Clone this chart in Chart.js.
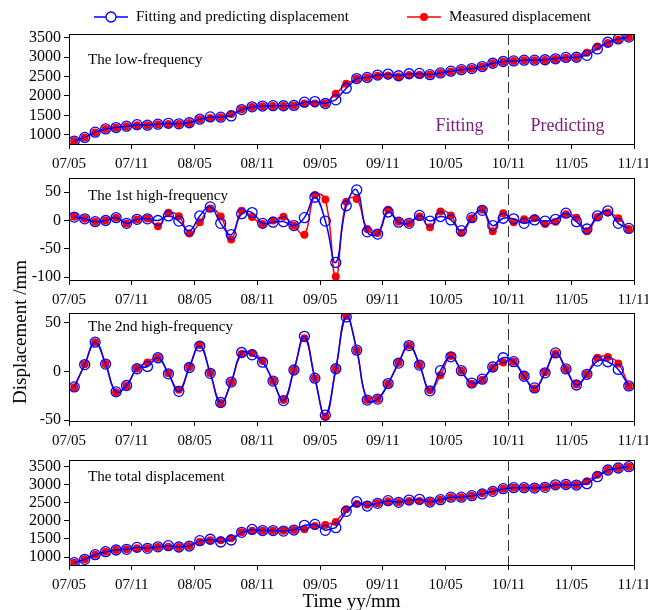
<!DOCTYPE html>
<html>
<head>
<meta charset="utf-8">
<script src="https://cdn.jsdelivr.net/npm/chart.js@4.4.0/dist/chart.umd.min.js"></script>
<style>
  body { margin: 0; background: #fff; width: 648px; height: 610px; position: relative; overflow: hidden; font-family: "Liberation Serif", serif; }
  canvas { position: absolute; left: 0; }
  #ylab { position: absolute; left: 20px; top: 332px; transform: translate(-50%, -50%) rotate(-90deg); font-size: 19px; white-space: nowrap; color: #000; }
</style>
</head>
<body>
<canvas id="c1"></canvas>
<canvas id="c2"></canvas>
<canvas id="c3"></canvas>
<canvas id="c4"></canvas>
<div id="ylab">Displacement /mm</div>
<script>
// monthly values, 2007/05 .. 2011/10 (plotted mid-month)
const monthTicks = ['07/05', '07/11', '08/05', '08/11', '09/05', '09/11', '10/05', '10/11', '11/05', '11/11'];
const splitMonth = 42; // 10/11: fitting before, predicting after

const lowMeasured = [835, 930, 1060, 1147, 1182, 1216, 1242, 1242, 1268, 1277, 1277, 1303, 1398, 1432, 1450, 1536, 1650, 1718, 1735, 1744,
  1744, 1753, 1804, 1804, 1804, 2055, 2315, 2445, 2479, 2522, 2531, 2505, 2540, 2548, 2548, 2592, 2635, 2678, 2704, 2756,
  2842, 2886, 2903, 2920, 2920, 2929, 2955, 2990, 2998, 3119, 3275, 3370, 3457, 3517];
const lowFitted = [835, 930, 1065, 1150, 1185, 1220, 1260, 1245, 1272, 1295, 1280, 1308, 1400, 1460, 1452, 1485, 1648, 1720, 1740, 1750,
  1748, 1755, 1840, 1856, 1805, 1900, 2200, 2450, 2480, 2540, 2565, 2522, 2574, 2583, 2550, 2595, 2640, 2680, 2708, 2760,
  2845, 2890, 2905, 2925, 2925, 2935, 2960, 2995, 3000, 3050, 3214, 3387, 3474, 3520];

const high1Measured = [6.5, 3, -2.4, 0, 4.7, -5.3, 1.8, 3.5, -10, 13.5, 7.6, -23, -3, 21, 7, -33.5, 17, 6, -6, 0,
  6.5, -9.4, -25, 45, 37, -99, 33, 38, -15, -22, 19, -2, -5, 7, -12, 16, 9, -22, 4, 19,
  -19, 13, -3, 2, 4, -6, -2, 11, 5, -19, 6, 14, 4, -15];
const high1Fitted = [6, 3, -2, 0, 5, -5, 2, 3, 0, 8, -1, -18, 8, 24, -5, -25, 12, 14, -5, -3,
  -2, -9, 5, 41, -1, -74, 26, 54, -20, -24, 15, -3, -5, 9, -1, 7, 1, -18, 5, 18,
  -9, 4, 3, -5, 1, -1, 2, 13, -2, -15, 8, 17, -5, -14];

const high2Measured = [-16.4, 7.2, 30, 7.5, -21.5, -14.7, 3, 9.2, 14, -2, -18.8, 4.4, 27, -1.7, -32.4, -11.3, 18, 19, 10.6, -10,
  -29.3, 1.4, 34, -7, -46.4, 2.7, 57, 21.8, -29.3, -28.3, -12.6, 8.9, 26.6, 6.5, -19.4, -4.1, 15.7, 0.7, -12.6, -8.5,
  4.1, 9.2, 9.9, -4.8, -17.7, -1, 18.4, 2.4, -13.6, -3, 14, 14.7, 8.2, -15];
const high2Fitted = [-16, 7, 30, 7.5, -21, -14.5, 2.7, 5, 14, -2.5, -20.5, 4, 26, -2, -32, -11, 19.4, 17, 9.5, -10,
  -30, 1.4, 36, -7, -45, 2.7, 56, 21.8, -29.5, -28.5, -12.5, 8.5, 26.5, 6.5, -20, 0.7, 15, 0.7, -12, -8,
  4.5, 14, 10, -5, -17, -1.5, 19, 2.5, -14, -3, 10.6, 9.9, 2, -15];

const totalMeasured = [844, 936, 1064, 1147, 1193, 1211, 1239, 1239, 1276, 1285, 1276, 1303, 1423, 1460, 1460, 1515, 1680, 1726, 1726, 1726,
  1726, 1744, 1763, 1855, 1882, 1965, 2314, 2461, 2443, 2480, 2535, 2507, 2544, 2544, 2516, 2581, 2645, 2645, 2691, 2755,
  2810, 2884, 2911, 2911, 2902, 2921, 2976, 2994, 2985, 3086, 3270, 3399, 3454, 3490];
const totalFitted = [844, 936, 1064, 1147, 1193, 1211, 1266, 1239, 1280, 1312, 1276, 1303, 1450, 1490, 1414, 1469, 1680, 1760, 1730, 1730,
  1715, 1744, 1873, 1900, 1735, 1809, 2259, 2525, 2406, 2480, 2553, 2507, 2571, 2590, 2516, 2581, 2650, 2650, 2691, 2740,
  2810, 2884, 2911, 2911, 2902, 2921, 2990, 3000, 2985, 3022, 3215, 3399, 3454, 3490];

const bigTicks = [1000, 1500, 2000, 2500, 3000, 3500];
const high1Ticks = [-100, -50, 0, 50];
const high2Ticks = [-50, 0, 50];

const FONT = 'Liberation Serif';
const BLUE = '#0000ff';
const RED = '#ff0000';

const pts = arr => arr.map((v, i) => ({x: i + 0.5, y: v}));

const framePlugin = {
  id: 'frame',
  beforeDatasetsDraw(chart) {
    const {ctx, chartArea: a, scales} = chart;
    const x = Math.round(scales.x.getPixelForValue(splitMonth)) + 0.5;
    ctx.save();
    ctx.strokeStyle = '#333';
    ctx.lineWidth = 1;
    ctx.setLineDash([11, 5]);
    ctx.beginPath();
    ctx.moveTo(x, a.top);
    ctx.lineTo(x, a.bottom);
    ctx.stroke();
    ctx.restore();
  },
  afterDraw(chart, args, opts) {
    const {ctx, chartArea: a, scales} = chart;
    ctx.save();
    ctx.strokeStyle = '#000';
    ctx.lineWidth = 1;
    ctx.strokeRect(Math.round(a.left) + 0.5, Math.round(a.top) + 0.5, Math.round(a.right - a.left), Math.round(a.bottom - a.top));
    ctx.fillStyle = '#000';
    ctx.textBaseline = 'middle';
    ctx.font = '15px "' + FONT + '"';
    ctx.fillText(opts.label, a.left + opts.dx, a.top + opts.dy);
    if (opts.notes) {
      const xs = scales.x.getPixelForValue(splitMonth);
      ctx.font = '18px "' + FONT + '"';
      ctx.fillStyle = '#7d1b7e';
      opts.notes.forEach(n => {
        ctx.textAlign = n.align;
        ctx.fillText(n.text, xs + n.dx, a.top + n.dy);
      });
    }
    ctx.restore();
  }
};

const legendPlugin = {
  id: 'lineLegend',
  afterDraw(chart, args, opts) {
    if (!opts.items) return;
    const {ctx} = chart;
    ctx.save();
    ctx.textBaseline = 'middle';
    ctx.font = '15px "' + FONT + '"';
    opts.items.forEach((it, k) => {
      const ds = chart.data.datasets[k];
      ctx.strokeStyle = ds.borderColor;
      ctx.lineWidth = 1.5;
      ctx.beginPath();
      ctx.moveTo(it.x, opts.y);
      ctx.lineTo(it.x + 34, opts.y);
      ctx.stroke();
      ctx.beginPath();
      ctx.arc(it.x + 17, opts.y, ds.pointRadius, 0, Math.PI * 2);
      if (ds.pointBackgroundColor !== 'transparent') {
        ctx.fillStyle = ds.pointBackgroundColor;
        ctx.fill();
      } else {
        ctx.fillStyle = '#fff';
        ctx.fill();
        ctx.lineWidth = ds.pointBorderWidth;
        ctx.stroke();
      }
      ctx.fillStyle = '#000';
      ctx.fillText(ds.label, it.x + 42, opts.y);
    });
    ctx.restore();
  }
};

function makePanel(id, top, height, padTop, axisH, cfg) {
  const canvas = document.getElementById(id);
  canvas.width = 648;
  canvas.height = height;
  canvas.style.top = top + 'px';
  return new Chart(canvas, {
    type: 'line',
    data: {
      datasets: [
        {
          label: 'Fitting and predicting displacement',
          data: pts(cfg.fitted),
          borderColor: BLUE,
          borderWidth: 1.5,
          pointRadius: 5,
          pointBorderWidth: 1.3,
          pointBorderColor: BLUE,
          pointBackgroundColor: 'transparent',
          tension: cfg.tension
        },
        {
          label: 'Measured displacement',
          data: pts(cfg.measured),
          borderColor: RED,
          borderWidth: 1.5,
          pointRadius: 4,
          pointBorderWidth: 0,
          pointBackgroundColor: RED,
          tension: cfg.tension
        }
      ]
    },
    options: {
      responsive: false,
      animation: false,
      devicePixelRatio: 1,
      layout: {padding: {top: padTop, right: 14, left: 0, bottom: 0}},
      scales: {
        x: {
          type: 'linear',
          min: 0,
          max: 54,
          afterBuildTicks: s => { s.ticks = monthTicks.map((t, i) => ({value: i * 6})); },
          afterFit: s => { s.height = axisH; s.paddingLeft = 0; s.paddingRight = 0; },
          ticks: {
            callback: (v, i) => monthTicks[i],
            autoSkip: false,
            maxRotation: 0,
            padding: 6,
            color: '#000',
            font: {family: FONT, size: 15}
          },
          grid: {drawOnChartArea: false, tickLength: 5, color: '#000'},
          border: {color: '#000'},
          title: cfg.xTitle ? {
            display: true,
            text: cfg.xTitle,
            color: '#000',
            font: {family: FONT, size: 19},
            padding: {top: 0, bottom: 0}
          } : {display: false}
        },
        y: {
          min: cfg.min,
          max: cfg.max,
          afterBuildTicks: s => { s.ticks = cfg.ticks.map(v => ({value: v})); },
          afterFit: s => { s.width = 69; s.paddingTop = 0; s.paddingBottom = 0; },
          ticks: {color: '#000', padding: 3, autoSkip: false, font: {family: FONT, size: 16}, callback: v => String(v)},
          grid: {drawOnChartArea: false, tickLength: 5, color: '#000'},
          border: {color: '#000'}
        }
      },
      plugins: {
        legend: {display: false},
        tooltip: {enabled: false},
        frame: {label: cfg.label, dx: 19, dy: cfg.labelDy, notes: cfg.notes},
        lineLegend: {items: cfg.legend, y: 17}
      }
    },
    plugins: [framePlugin, legendPlugin]
  });
}

makePanel('c1', 0, 174, 34, 30, {
  measured: lowMeasured, fitted: lowFitted, min: 760, max: 3600, ticks: bigTicks, tension: 0,
  label: 'The low-frequency', labelDy: 26,
  notes: [{text: 'Fitting', dx: -25, dy: 92, align: 'right'}, {text: 'Predicting', dx: 22, dy: 92, align: 'left'}],
  legend: [{x: 94}, {x: 407}]
});

makePanel('c2', 170, 140, 8, 30, {
  measured: high1Measured, fitted: high1Fitted, min: -105, max: 75, ticks: high1Ticks, tension: 0.45,
  label: 'The 1st high-frequency', labelDy: 18
});

makePanel('c3', 305, 146, 8, 30, {
  measured: high2Measured, fitted: high2Fitted, min: -51, max: 60, ticks: high2Ticks, tension: 0.45,
  label: 'The 2nd high-frequency', labelDy: 14
});

makePanel('c4', 452, 161, 8, 48, {
  measured: totalMeasured, fitted: totalFitted, min: 780, max: 3675, ticks: bigTicks, tension: 0,
  label: 'The total displacement', labelDy: 17, xTitle: 'Time yy/mm'
});
</script>
</body>
</html>
